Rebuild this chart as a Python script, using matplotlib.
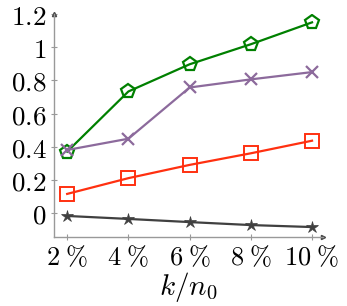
import matplotlib
matplotlib.use("Agg")
import matplotlib.pyplot as plt
from matplotlib.ticker import FixedLocator, FixedFormatter

plt.rcParams['mathtext.fontset'] = 'cm'
plt.rcParams['font.family'] = 'serif'
plt.rcParams['font.serif'] = ['DejaVu Serif']

# x positions (percent of n0)
x = [2, 4, 6, 8, 10]
x_labels = [r'$2\;\%$', r'$4\;\%$', r'$6\;\%$', r'$8\;\%$', r'$10\;\%$']
y_ticks = [0, 0.2, 0.4, 0.6, 0.8, 1.0, 1.2]
y_labels = [r'$0$', r'$0.2$', r'$0.4$', r'$0.6$', r'$0.8$', r'$1$', r'$1.2$']

green = [0.37, 0.733, 0.897, 1.018, 1.15]
purple = [0.38, 0.448, 0.757, 0.806, 0.85]
red = [0.115, 0.21, 0.29, 0.36, 0.436]
gray = [-0.018, -0.036, -0.055, -0.073, -0.085]

fig = plt.figure(figsize=(3.47, 3.06), dpi=100)
ax = fig.add_axes([0.1556, 0.2255, 0.931 - 0.1556, 0.954 - 0.2255])

ax.plot(x, green, color='#008000', lw=1.6, marker='p', ms=10, mfc='none', mew=1.6)
ax.plot(x, purple, color='#8c6a9c', lw=1.6, marker='x', ms=8, mew=1.6)
ax.plot(x, red, color='#ff3010', lw=1.6, marker='s', ms=10, mfc='none', mew=1.4)
ax.plot(x, gray, color='#404040', lw=1.6, marker='*', ms=9, mew=0.5)

ax.set_xlim(1.57, 10.36)
ax.set_ylim(-0.145, 1.2)

ax.xaxis.set_major_locator(FixedLocator(x))
ax.xaxis.set_major_formatter(FixedFormatter(x_labels))
ax.yaxis.set_major_locator(FixedLocator(y_ticks))
ax.yaxis.set_major_formatter(FixedFormatter(y_labels))

for s in ['top', 'right']:
    ax.spines[s].set_visible(False)
for s in ['left', 'bottom']:
    ax.spines[s].set_color('#999999')
    ax.spines[s].set_linewidth(1.0)

ax.tick_params(direction='inout', length=5, width=0.8, color='#999999',
               labelsize=19.5, pad=3)
ax.tick_params(axis='x', labelsize=19, pad=3)

# arrow heads at the end of the axes
ax.plot(1, 0, '>', color='#444444', ms=3, transform=ax.transAxes, clip_on=False)
ax.plot(0, 1, '^', color='#444444', ms=3, transform=ax.transAxes, clip_on=False)

# axis label placed in figure coords, under the tick labels
fig.text(0.1556 + (0.931 - 0.1556) / 2, 0.008, r'$k/n_0$', fontsize=21,
         ha='center', va='bottom')

fig.savefig('out.png', dpi=100)
